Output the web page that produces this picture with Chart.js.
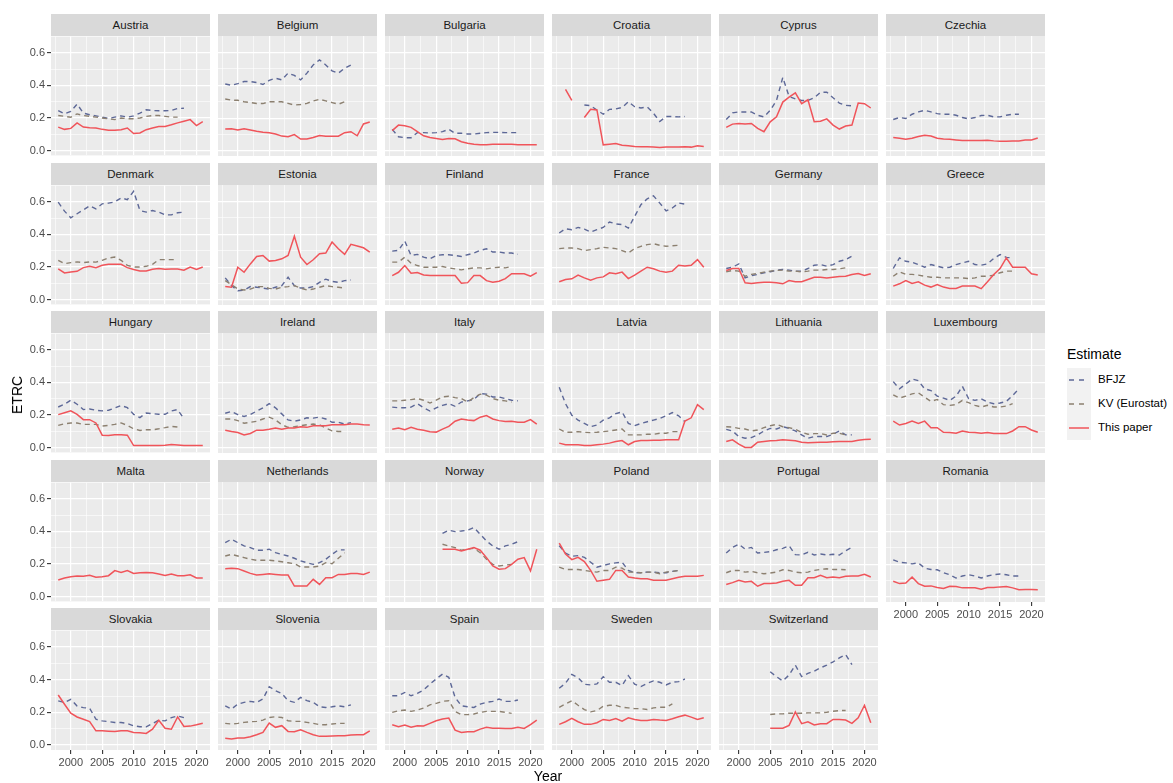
<!DOCTYPE html>
<html>
<head>
<meta charset="utf-8">
<script src="https://cdn.jsdelivr.net/npm/chart.js@4.4.1/dist/chart.umd.min.js"></script>
<style>
  body { margin: 0; background: #fff; font-family: "Liberation Sans", Arial, sans-serif; }
  #page { position: relative; width: 1173px; height: 783px; overflow: hidden; }
  .strip { position: absolute; background: #D9D9D9; color: #1A1A1A; font-size: 11.5px; text-align: center; line-height: 22px; }
  canvas { position: absolute; }
  .axis-title { position: absolute; font-size: 14px; color: #000; white-space: nowrap; }
  .legend-title { position: absolute; font-size: 14px; color: #000; }
  .legend-label { position: absolute; font-size: 11.5px; color: #000; white-space: nowrap; }
  .keybox { position: absolute; background: #F2F2F2; }
</style>
</head>
<body>
<div id="page"></div>
<script>
const years = [1998, 1999, 2000, 2001, 2002, 2003, 2004, 2005, 2006, 2007, 2008, 2009,
               2010, 2011, 2012, 2013, 2014, 2015, 2016, 2017, 2018, 2019, 2020, 2021];

const countries = [
  "Austria", "Belgium", "Bulgaria", "Croatia", "Cyprus", "Czechia",
  "Denmark", "Estonia", "Finland", "France", "Germany", "Greece",
  "Hungary", "Ireland", "Italy", "Latvia", "Lithuania", "Luxembourg",
  "Malta", "Netherlands", "Norway", "Poland", "Portugal", "Romania",
  "Slovakia", "Slovenia", "Spain", "Sweden", "Switzerland"
];

const seriesNames = ["BFJZ", "KV (Eurostat)", "This paper"];

const xTickValues = [1997.5, 2000, 2002.5, 2005, 2007.5, 2010, 2012.5, 2015, 2017.5, 2020];
const yTickValues = [0, 0.1, 0.2, 0.3, 0.4, 0.5, 0.6];

// values by year, starting 1998; null = no estimate
const bfjz = {
  Austria: [0.245,0.225,0.24,0.285,0.23,0.22,0.213,0.205,0.197,0.205,0.213,0.205,0.213,0.23,0.25,0.246,0.244,0.244,0.246,0.258,0.26],
  Belgium: [0.408,0.4,0.41,0.423,0.423,0.417,0.405,0.43,0.443,0.433,0.474,0.46,0.433,0.474,0.524,0.555,0.524,0.488,0.474,0.504,0.524],
  Bulgaria: [0.132,0.087,0.081,0.081,0.112,0.112,0.11,0.112,0.118,0.132,0.108,0.108,0.104,0.104,0.108,0.112,0.114,0.114,0.112,0.112,0.112],
  Croatia: [null,null,null,null,0.28,0.276,0.25,0.224,0.254,0.256,0.265,0.3,0.27,0.262,0.268,0.23,0.18,0.21,0.21,0.208,0.21],
  Cyprus: [0.192,0.232,0.238,0.238,0.238,0.218,0.208,0.248,0.308,0.448,0.332,0.318,0.308,0.308,0.324,0.358,0.358,0.324,0.292,0.278,0.275],
  Czechia: [0.192,0.204,0.198,0.224,0.238,0.248,0.238,0.228,0.224,0.224,0.218,0.204,0.196,0.204,0.216,0.218,0.208,0.208,0.218,0.224,0.224],
  Denmark: [0.598,0.543,0.502,0.527,0.551,0.576,0.557,0.588,0.592,0.6,0.624,0.614,0.665,0.547,0.537,0.547,0.537,0.52,0.52,0.533,0.537],
  Estonia: [0.135,0.088,0.057,0.061,0.082,0.078,0.073,0.067,0.078,0.088,0.139,0.088,0.073,0.073,0.082,0.108,0.127,0.114,0.108,0.118,0.122],
  Finland: [0.298,0.302,0.359,0.271,0.278,0.261,0.251,0.271,0.276,0.276,0.271,0.265,0.276,0.286,0.302,0.312,0.292,0.292,0.286,0.286,0.278],
  France: [0.408,0.434,0.428,0.442,0.432,0.414,0.428,0.442,0.475,0.463,0.459,0.438,0.509,0.58,0.616,0.634,0.59,0.543,0.56,0.59,0.584],
  Germany: [0.192,0.2,0.22,0.135,0.149,0.156,0.166,0.172,0.182,0.186,0.182,0.176,0.176,0.192,0.212,0.216,0.206,0.216,0.236,0.246,0.267],
  Greece: [0.192,0.257,0.236,0.23,0.216,0.2,0.216,0.206,0.196,0.2,0.216,0.226,0.236,0.216,0.212,0.22,0.253,0.277,0.26,0.257],
  Hungary: [0.249,0.266,0.291,0.266,0.233,0.237,0.229,0.225,0.229,0.243,0.258,0.245,0.204,0.184,0.212,0.208,0.204,0.204,0.225,0.233,0.177],
  Ireland: [0.212,0.223,0.204,0.192,0.204,0.225,0.245,0.27,0.245,0.208,0.171,0.163,0.171,0.184,0.182,0.188,0.177,0.157,0.157,0.146,0.155],
  Italy: [0.249,0.245,0.245,0.249,0.27,0.245,0.225,0.245,0.26,0.27,0.254,0.28,0.287,0.295,0.332,0.328,0.311,0.311,0.301,0.291,0.287],
  Latvia: [0.37,0.27,0.2,0.17,0.15,0.13,0.14,0.17,0.184,0.21,0.22,0.15,0.136,0.15,0.16,0.17,0.18,0.196,0.216,0.196,0.16],
  Lithuania: [0.114,0.104,0.07,0.06,0.064,0.08,0.104,0.12,0.116,0.13,0.12,0.104,0.08,0.06,0.07,0.07,0.07,0.084,0.104,0.08,0.08],
  Luxembourg: [0.404,0.36,0.39,0.42,0.41,0.36,0.35,0.316,0.304,0.29,0.316,0.376,0.3,0.29,0.3,0.28,0.27,0.274,0.284,0.32,0.36],
  Malta: [],
  Netherlands: [0.331,0.352,0.331,0.311,0.301,0.285,0.285,0.291,0.27,0.26,0.25,0.236,0.22,0.209,0.199,0.209,0.23,0.26,0.287,0.287],
  Norway: [null,null,null,null,null,null,null,null,0.388,0.407,0.398,0.402,0.407,0.423,0.382,0.341,0.311,0.291,0.311,0.321,0.337],
  Poland: [0.312,0.268,0.248,0.252,0.242,0.212,0.182,0.192,0.202,0.208,0.212,0.162,0.148,0.148,0.152,0.152,0.148,0.148,0.156,0.162],
  Portugal: [0.268,0.302,0.322,0.292,0.302,0.268,0.272,0.276,0.288,0.296,0.312,0.258,0.256,0.272,0.256,0.262,0.256,0.26,0.256,0.282,0.302],
  Romania: [0.226,0.212,0.208,0.202,0.208,0.176,0.168,0.166,0.148,0.136,0.116,0.128,0.136,0.128,0.116,0.128,0.136,0.14,0.136,0.128,0.128],
  Slovakia: [0.27,0.26,0.28,0.239,0.229,0.225,0.158,0.148,0.144,0.138,0.138,0.132,0.118,0.112,0.112,0.132,0.152,0.148,0.168,0.178,0.168],
  Slovenia: [0.239,0.219,0.249,0.26,0.266,0.26,0.28,0.355,0.331,0.314,0.27,0.26,0.29,0.27,0.26,0.233,0.229,0.233,0.239,0.233,0.245],
  Spain: [0.3,0.3,0.32,0.3,0.314,0.335,0.371,0.402,0.432,0.412,0.29,0.239,0.233,0.229,0.249,0.26,0.266,0.28,0.266,0.266,0.274],
  Sweden: [0.346,0.376,0.43,0.41,0.37,0.366,0.372,0.416,0.382,0.382,0.362,0.422,0.37,0.356,0.376,0.39,0.382,0.366,0.382,0.386,0.402],
  Switzerland: [null,null,null,null,null,null,null,0.446,0.416,0.39,0.426,0.486,0.416,0.436,0.45,0.47,0.486,0.506,0.53,0.55,0.49]
};

const kv = {
  Austria: [0.215,0.21,0.205,0.225,0.215,0.21,0.205,0.2,0.195,0.19,0.2,0.195,0.195,0.2,0.21,0.215,0.215,0.21,0.205,0.205],
  Belgium: [0.317,0.31,0.309,0.3,0.295,0.289,0.289,0.3,0.3,0.3,0.29,0.28,0.283,0.29,0.305,0.315,0.305,0.295,0.285,0.3],
  Denmark: [0.241,0.22,0.227,0.231,0.227,0.231,0.23,0.241,0.255,0.261,0.241,0.21,0.2,0.2,0.204,0.216,0.245,0.245,0.245,0.245],
  Estonia: [0.118,0.094,0.067,0.061,0.067,0.082,0.082,0.071,0.067,0.078,0.082,0.088,0.073,0.061,0.067,0.078,0.088,0.082,0.078,0.073],
  Finland: [0.231,0.231,0.261,0.224,0.21,0.2,0.2,0.2,0.204,0.196,0.19,0.184,0.19,0.196,0.196,0.19,0.196,0.2,0.196,0.204],
  France: [0.313,0.317,0.317,0.313,0.301,0.307,0.313,0.321,0.317,0.313,0.301,0.287,0.313,0.327,0.337,0.343,0.333,0.327,0.33,0.333],
  Germany: [0.172,0.18,0.176,0.145,0.156,0.162,0.17,0.176,0.18,0.182,0.176,0.176,0.172,0.176,0.182,0.182,0.186,0.186,0.19,0.196],
  Greece: [0.145,0.172,0.156,0.156,0.152,0.145,0.139,0.139,0.135,0.135,0.135,0.135,0.131,0.135,0.145,0.145,0.152,0.166,0.176,0.176],
  Hungary: [0.136,0.146,0.151,0.151,0.142,0.142,0.142,0.132,0.136,0.142,0.151,0.136,0.115,0.105,0.109,0.109,0.115,0.122,0.13,0.126],
  Ireland: [0.177,0.177,0.167,0.151,0.157,0.163,0.177,0.188,0.171,0.142,0.126,0.13,0.136,0.142,0.146,0.142,0.122,0.105,0.101,0.101],
  Italy: [0.287,0.287,0.291,0.295,0.301,0.291,0.274,0.291,0.311,0.315,0.307,0.301,0.28,0.307,0.328,0.322,0.301,0.291,0.287,0.28],
  Latvia: [0.116,0.096,0.096,0.1,0.096,0.094,0.096,0.1,0.104,0.11,0.116,0.08,0.08,0.08,0.084,0.084,0.09,0.09,0.1,0.1],
  Lithuania: [0.13,0.128,0.12,0.116,0.104,0.11,0.124,0.136,0.144,0.13,0.124,0.114,0.096,0.084,0.088,0.088,0.08,0.09,0.09,0.08],
  Luxembourg: [0.324,0.304,0.316,0.33,0.336,0.31,0.284,0.296,0.264,0.26,0.264,0.29,0.276,0.26,0.25,0.26,0.25,0.25,0.256,0.27],
  Netherlands: [0.25,0.26,0.25,0.24,0.23,0.224,0.224,0.224,0.22,0.215,0.209,0.203,0.183,0.183,0.183,0.189,0.209,0.203,0.236,0.27],
  Norway: [null,null,null,null,null,null,null,null,0.321,0.311,0.301,0.285,0.291,0.297,0.27,0.23,0.199,0.189,0.195,0.199],
  Poland: [0.182,0.168,0.168,0.168,0.162,0.156,0.152,0.162,0.162,0.182,0.176,0.152,0.152,0.148,0.152,0.152,0.142,0.152,0.156,0.162],
  Portugal: [0.148,0.162,0.162,0.152,0.156,0.148,0.142,0.146,0.152,0.166,0.162,0.152,0.148,0.152,0.162,0.168,0.172,0.168,0.168,0.166],
  Slovenia: [0.132,0.128,0.132,0.138,0.142,0.144,0.152,0.168,0.172,0.168,0.148,0.144,0.144,0.138,0.132,0.124,0.124,0.128,0.132,0.132],
  Spain: [0.199,0.209,0.213,0.205,0.213,0.225,0.245,0.254,0.266,0.27,0.205,0.185,0.185,0.189,0.199,0.205,0.205,0.205,0.199,0.193],
  Sweden: [0.23,0.25,0.27,0.242,0.216,0.202,0.21,0.236,0.242,0.242,0.23,0.226,0.222,0.222,0.216,0.226,0.23,0.23,0.25],
  Switzerland: [null,null,null,null,null,null,null,0.186,0.19,0.19,0.194,0.194,0.194,0.196,0.196,0.196,0.2,0.206,0.21,0.21]
};

const thisPaper = {
  Austria: [0.144,0.13,0.136,0.17,0.144,0.14,0.138,0.13,0.124,0.124,0.128,0.138,0.104,0.108,0.128,0.138,0.148,0.148,0.158,0.17,0.18,0.19,0.153,0.177],
  Belgium: [0.134,0.136,0.128,0.136,0.128,0.12,0.114,0.112,0.104,0.091,0.087,0.1,0.073,0.073,0.083,0.095,0.09,0.09,0.09,0.112,0.118,0.093,0.165,0.177],
  Bulgaria: [0.124,0.158,0.154,0.144,0.118,0.093,0.083,0.077,0.071,0.077,0.075,0.057,0.047,0.041,0.039,0.039,0.041,0.041,0.041,0.041,0.039,0.039,0.039,0.039],
  Croatia: [null,0.376,0.308,null,0.204,0.254,0.25,0.038,0.042,0.046,0.036,0.032,0.028,0.026,0.026,0.024,0.022,0.024,0.024,0.024,0.026,0.024,0.032,0.028],
  Cyprus: [0.144,0.164,0.168,0.164,0.168,0.138,0.118,0.178,0.208,0.298,0.328,0.354,0.288,0.312,0.178,0.182,0.196,0.158,0.134,0.152,0.158,0.292,0.288,0.262],
  Czechia: [0.082,0.078,0.072,0.078,0.088,0.096,0.092,0.078,0.074,0.072,0.068,0.064,0.064,0.064,0.064,0.066,0.062,0.06,0.06,0.062,0.062,0.068,0.068,0.08],
  Denmark: [0.188,0.163,0.169,0.173,0.196,0.204,0.196,0.21,0.216,0.216,0.216,0.196,0.184,0.176,0.176,0.186,0.19,0.186,0.188,0.188,0.18,0.2,0.185,0.2],
  Estonia: [0.082,0.078,0.2,0.169,0.22,0.265,0.271,0.237,0.241,0.251,0.271,0.388,0.261,0.216,0.245,0.282,0.286,0.353,0.312,0.278,0.339,0.329,0.318,0.292],
  Finland: [0.149,0.169,0.21,0.163,0.167,0.153,0.149,0.149,0.149,0.15,0.149,0.102,0.106,0.149,0.149,0.118,0.108,0.115,0.13,0.16,0.16,0.16,0.145,0.167],
  France: [0.111,0.125,0.129,0.152,0.135,0.121,0.135,0.141,0.166,0.16,0.17,0.131,0.152,0.176,0.2,0.19,0.176,0.17,0.176,0.212,0.208,0.212,0.246,0.2],
  Germany: [0.18,0.192,0.192,0.105,0.101,0.105,0.109,0.109,0.105,0.099,0.119,0.111,0.111,0.125,0.139,0.139,0.135,0.139,0.143,0.145,0.156,0.162,0.149,0.16],
  Greece: [0.085,0.099,0.119,0.101,0.111,0.091,0.079,0.095,0.079,0.071,0.071,0.085,0.085,0.085,0.069,0.111,0.156,0.192,0.257,0.2,0.2,0.2,0.16,0.152],
  Hungary: [0.202,0.214,0.225,0.204,0.171,0.171,0.151,0.076,0.074,0.078,0.078,0.076,0.012,0.012,0.012,0.012,0.012,0.014,0.019,0.016,0.012,0.012,0.012,0.012],
  Ireland: [0.109,0.101,0.095,0.08,0.089,0.109,0.109,0.115,0.122,0.115,0.122,0.122,0.13,0.126,0.136,0.136,0.136,0.142,0.142,0.142,0.146,0.146,0.142,0.14],
  Italy: [0.115,0.122,0.111,0.126,0.115,0.109,0.099,0.097,0.115,0.132,0.163,0.177,0.171,0.167,0.188,0.198,0.177,0.167,0.161,0.163,0.157,0.157,0.173,0.146],
  Latvia: [0.03,0.02,0.02,0.02,0.016,0.016,0.02,0.024,0.03,0.04,0.046,0.02,0.04,0.046,0.046,0.048,0.048,0.05,0.05,0.05,0.164,0.184,0.264,0.234],
  Lithuania: [0.04,0.05,0.024,0.004,0.004,0.036,0.04,0.044,0.046,0.05,0.048,0.044,0.036,0.032,0.034,0.036,0.036,0.038,0.04,0.04,0.04,0.048,0.052,0.054],
  Luxembourg: [0.164,0.14,0.15,0.164,0.15,0.164,0.124,0.124,0.096,0.094,0.09,0.104,0.096,0.094,0.09,0.094,0.088,0.088,0.088,0.104,0.13,0.13,0.11,0.096],
  Malta: [0.102,0.114,0.122,0.126,0.124,0.13,0.118,0.122,0.128,0.159,0.148,0.159,0.142,0.146,0.148,0.146,0.138,0.13,0.138,0.128,0.128,0.134,0.114,0.114],
  Netherlands: [0.173,0.175,0.173,0.159,0.144,0.134,0.138,0.142,0.138,0.134,0.134,0.067,0.067,0.067,0.108,0.077,0.118,0.118,0.138,0.138,0.144,0.144,0.138,0.152],
  Norway: [null,null,null,null,null,null,null,null,0.291,0.291,0.291,0.28,0.291,0.301,0.285,0.24,0.189,0.169,0.173,0.199,0.23,0.24,0.159,0.291],
  Poland: [0.328,0.262,0.228,0.242,0.216,0.162,0.096,0.102,0.108,0.162,0.162,0.122,0.116,0.112,0.112,0.102,0.102,0.102,0.112,0.12,0.126,0.126,0.126,0.132],
  Portugal: [0.076,0.088,0.102,0.092,0.096,0.066,0.082,0.082,0.086,0.096,0.102,0.072,0.072,0.118,0.118,0.132,0.118,0.122,0.118,0.126,0.128,0.128,0.138,0.122],
  Romania: [0.096,0.082,0.086,0.122,0.082,0.066,0.068,0.058,0.052,0.066,0.064,0.056,0.056,0.056,0.048,0.058,0.058,0.062,0.064,0.056,0.044,0.046,0.046,0.044],
  Slovakia: [0.306,0.25,0.195,0.172,0.158,0.144,0.087,0.087,0.085,0.083,0.087,0.087,0.077,0.075,0.071,0.097,0.152,0.103,0.097,0.172,0.114,0.116,0.124,0.134],
  Slovenia: [0.041,0.037,0.043,0.043,0.051,0.063,0.077,0.134,0.108,0.118,0.083,0.081,0.093,0.077,0.063,0.053,0.053,0.055,0.057,0.057,0.061,0.063,0.063,0.087],
  Spain: [0.124,0.112,0.122,0.108,0.118,0.116,0.132,0.148,0.158,0.164,0.091,0.077,0.081,0.081,0.097,0.108,0.103,0.103,0.101,0.101,0.108,0.101,0.124,0.152],
  Sweden: [0.126,0.142,0.162,0.142,0.126,0.126,0.136,0.156,0.15,0.162,0.146,0.166,0.156,0.15,0.15,0.156,0.152,0.15,0.16,0.172,0.182,0.17,0.156,0.166],
  Switzerland: [null,null,null,null,null,null,null,0.102,0.102,0.102,0.12,0.202,0.13,0.142,0.122,0.13,0.13,0.156,0.156,0.152,0.132,0.166,0.242,0.136]
};

const seriesColors = ["#5D6897", "#8C8070", "#F0545A"];

// page layout (px)
const PANEL_X0 = 51, PANEL_DX = 167, PANEL_W = 159;
const STRIP_Y0 = 14, PANEL_DY = 148.5, STRIP_H = 22, PANEL_H = 120;
const AXIS_W = 30, AXIS_H = 18, PAD = 8;

const page = document.getElementById("page");

const panelBackground = {
  id: "panelBackground",
  beforeDraw(chart) {
    const { ctx, chartArea: a } = chart;
    ctx.save();
    ctx.fillStyle = "#EBEBEB";
    ctx.fillRect(a.left, a.top, a.width, a.height);
    ctx.restore();
  }
};

const isMajorX = (v) => Math.abs(v % 5) < 1e-6;
const isMajorY = (v) => Math.round(v * 10) % 2 === 0;

function toPoints(vals) {
  return (vals || []).map((v, i) => ({ x: years[i], y: v }));
}

function addDiv(cls, text, style) {
  const d = document.createElement("div");
  d.className = cls;
  d.textContent = text;
  Object.assign(d.style, style);
  page.appendChild(d);
  return d;
}

function makePanel(name, idx) {
  const col = idx % 6, row = Math.floor(idx / 6);
  const showY = col === 0;
  const showX = row === 4 || (row === 3 && col === 5);
  const plotLeft = PANEL_X0 + col * PANEL_DX;
  const stripTop = Math.round(STRIP_Y0 + row * PANEL_DY);
  const plotTop = stripTop + STRIP_H;

  addDiv("strip", name, {
    left: plotLeft + "px", top: stripTop + "px",
    width: PANEL_W + "px", height: STRIP_H + "px"
  });

  const axW = showY ? AXIS_W : 0, axH = showX ? AXIS_H : 0;
  const canvas = document.createElement("canvas");
  const cw = PAD + axW + PANEL_W + PAD, ch = PAD + PANEL_H + axH + PAD;
  canvas.width = cw; canvas.height = ch;
  canvas.style.width = cw + "px"; canvas.style.height = ch + "px";
  canvas.style.left = (plotLeft - axW - PAD) + "px";
  canvas.style.top = (plotTop - PAD) + "px";
  page.appendChild(canvas);

  const datasets = [
    { label: seriesNames[2], data: toPoints(thisPaper[name]), borderColor: seriesColors[2], borderWidth: 1.5 },
    { label: seriesNames[1], data: toPoints(kv[name]), borderColor: seriesColors[1], borderWidth: 1.4, borderDash: [5, 4] },
    { label: seriesNames[0], data: toPoints(bfjz[name]), borderColor: seriesColors[0], borderWidth: 1.4, borderDash: [5, 4] }
  ].map((d) => ({ ...d, pointRadius: 0, tension: 0, fill: false, spanGaps: false }));

  new Chart(canvas, {
    type: "line",
    data: { datasets },
    options: {
      animation: false,
      responsive: false,
      events: [],
      layout: { padding: PAD },
      plugins: { legend: { display: false }, tooltip: { enabled: false } },
      scales: {
        x: {
          type: "linear",
          min: 1996.85,
          max: 2022.15,
          afterBuildTicks: (axis) => { axis.ticks = xTickValues.map((v) => ({ value: v })); },
          afterFit: (axis) => { axis.height = axH; },
          border: { display: false },
          grid: {
            color: "#FFFFFF",
            lineWidth: (c) => (isMajorX(c.tick.value) ? 1.2 : 0.6),
            drawTicks: showX,
            tickLength: 4,
            tickWidth: 1.1,
            tickColor: (c) => (isMajorX(c.tick.value) ? "#333333" : "rgba(0,0,0,0)")
          },
          ticks: {
            display: showX,
            autoSkip: false,
            maxRotation: 0,
            padding: 2,
            color: "#4D4D4D",
            font: { family: "Liberation Sans, Arial", size: 11 },
            callback: (v) => (isMajorX(v) ? String(v) : "")
          }
        },
        y: {
          min: -0.03,
          max: 0.70,
          afterBuildTicks: (axis) => { axis.ticks = yTickValues.map((v) => ({ value: v })); },
          afterFit: (axis) => { axis.width = axW; },
          border: { display: false },
          grid: {
            color: "#FFFFFF",
            lineWidth: (c) => (isMajorY(c.tick.value) ? 1.2 : 0.6),
            drawTicks: showY,
            tickLength: 4,
            tickWidth: 1.1,
            tickColor: (c) => (isMajorY(c.tick.value) ? "#333333" : "rgba(0,0,0,0)")
          },
          ticks: {
            display: showY,
            autoSkip: false,
            padding: 2,
            color: "#4D4D4D",
            font: { family: "Liberation Sans, Arial", size: 11 },
            callback: (v) => (isMajorY(v) ? v.toFixed(1) : "")
          }
        }
      }
    },
    plugins: [panelBackground]
  });
}

countries.forEach(makePanel);

// axis titles
const yt = addDiv("axis-title", "ETRC", { left: "17px", top: "395px" });
yt.style.transform = "translate(-50%, -50%) rotate(-90deg)";
const xt = addDiv("axis-title", "Year", { left: "548px", top: "776px" });
xt.style.transform = "translate(-50%, -50%)";

// legend
addDiv("legend-title", "Estimate", { left: "1067px", top: "346px" });
const KEY_X = 1067, KEY_Y = 368, KEY_W = 24, KEY_H = 24;
addDiv("keybox", "", { left: KEY_X + "px", top: KEY_Y + "px", width: KEY_W + "px", height: (KEY_H * 3) + "px" });
const svgNS = "http://www.w3.org/2000/svg";
const svg = document.createElementNS(svgNS, "svg");
svg.setAttribute("width", KEY_W);
svg.setAttribute("height", KEY_H * 3);
Object.assign(svg.style, { position: "absolute", left: KEY_X + "px", top: KEY_Y + "px" });
seriesNames.forEach((s, i) => {
  const ln = document.createElementNS(svgNS, "line");
  const yy = KEY_H * i + KEY_H / 2;
  ln.setAttribute("x1", 2); ln.setAttribute("x2", KEY_W - 2);
  ln.setAttribute("y1", yy); ln.setAttribute("y2", yy);
  ln.setAttribute("stroke", seriesColors[i]);
  ln.setAttribute("stroke-width", i === 2 ? 1.5 : 1.4);
  if (i < 2) ln.setAttribute("stroke-dasharray", "5 5");
  svg.appendChild(ln);
  addDiv("legend-label", s, { left: (KEY_X + KEY_W + 7) + "px", top: (KEY_Y + yy - 7) + "px" });
});
page.appendChild(svg);
</script>
</body>
</html>
